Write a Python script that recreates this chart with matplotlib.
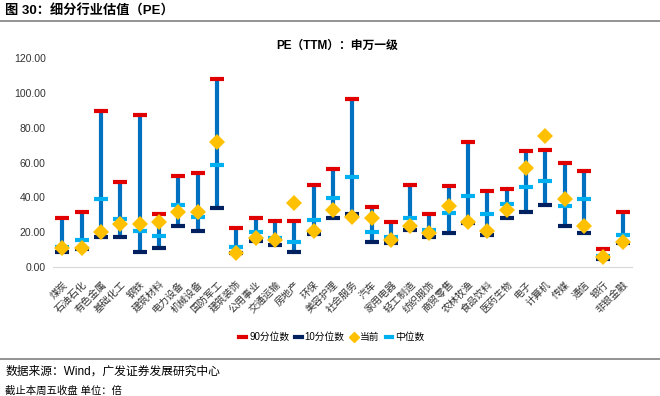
import numpy as np
import matplotlib.pyplot as plt
from matplotlib.lines import Line2D
from matplotlib.ticker import FormatStrFormatter

plt.rcParams['font.family'] = ['Liberation Sans', 'Noto Sans CJK SC', 'DejaVu Sans']

# --- DATA ---
industries = ["煤炭", "石油石化", "有色金属", "基础化工", "钢铁", "建筑材料", "电力设备", "机械设备",
              "国防军工", "建筑装饰", "公用事业", "交通运输", "房地产", "环保", "美容护理", "社会服务",
              "汽车", "家用电器", "轻工制造", "纺织服饰", "商贸零售", "农林牧渔", "食品饮料", "医药生物",
              "电子", "计算机", "传媒", "通信", "银行", "非银金融"]
p90 = [28.3, 31.6, 89.8, 49.0, 87.4, 30.6, 52.1, 54.2, 108.2, 22.4, 28.3, 26.4, 26.6, 47.1, 56.1,
       96.4, 34.5, 25.7, 47.1, 30.5, 46.4, 71.8, 43.5, 45.0, 66.7, 67.2, 59.6, 55.4, 10.2, 31.4]
p10 = [8.4, 10.2, 17.2, 17.4, 8.4, 11.1, 23.6, 20.5, 34.1, 8.0, 15.1, 12.8, 8.6, 18.8, 28.0,
       30.6, 14.2, 14.0, 21.3, 17.4, 19.7, 25.1, 18.6, 28.2, 31.6, 35.5, 23.8, 19.5, 4.4, 14.0]
current = [10.7, 10.9, 19.9, 24.5, 24.7, 26.0, 31.8, 31.4, 71.7, 8.2, 16.5, 15.5, 36.8, 20.7, 32.8,
           28.7, 28.2, 15.5, 23.6, 19.4, 35.1, 25.9, 20.5, 32.6, 56.7, 75.3, 39.1, 23.4, 5.6, 14.5]
median = [11.7, 15.5, 39.1, 27.4, 20.5, 18.0, 35.6, 28.7, 58.8, 11.5, 19.9, 16.9, 14.4, 27.2, 39.8,
          51.5, 19.9, 17.4, 28.0, 21.0, 31.2, 41.0, 30.6, 36.4, 45.8, 49.3, 35.1, 38.9, 6.5, 18.6]

C_BAR = "#0070C0"
C_P90 = "#E00000"
C_P10 = "#002060"
C_CUR = "#FFC000"
C_MED = "#00B0F0"

fig = plt.figure(figsize=(6.6, 3.96), dpi=100)
ax = fig.add_axes([0.080, 0.326, 0.878, 0.527])

x = np.arange(len(industries))
# 10-90 range bar, then the three dashes and the diamond for the current value
ax.vlines(x, p10, p90, color=C_BAR, linewidth=3, zorder=2)
ax.plot(x, p90, linestyle='none', marker='_', markersize=10, markeredgewidth=3, color=C_P90, zorder=3)
ax.plot(x, p10, linestyle='none', marker='_', markersize=10, markeredgewidth=3, color=C_P10, zorder=3)
ax.plot(x, median, linestyle='none', marker='_', markersize=10, markeredgewidth=3, color=C_MED, zorder=4)
ax.plot(x, current, linestyle='none', marker='D', markersize=8, color=C_CUR, markeredgewidth=0, zorder=5)

ax.set_xlim(-0.5, len(industries) - 0.5)
ax.set_ylim(0, 120)
ax.set_yticks(np.arange(0, 121, 20))
ax.yaxis.set_major_formatter(FormatStrFormatter('%.2f'))
ax.tick_params(axis='y', length=0, labelsize=7.5, pad=5, labelcolor='#333333')
ax.set_xticks(x)
ax.set_xticklabels(industries, rotation=45, ha='right', rotation_mode='anchor', fontsize=7.2,
                   color='#333333')
ax.tick_params(axis='x', length=0, pad=9)
for s in ['top', 'right', 'left']:
    ax.spines[s].set_visible(False)
ax.spines['bottom'].set_color('#D9D9D9')

ax.set_title("PE（TTM）：申万一级", fontsize=8.5, fontweight='bold', pad=7, x=0.49)

# legend
handles = [
    Line2D([], [], color=C_P90, linewidth=3),
    Line2D([], [], color=C_P10, linewidth=3),
    Line2D([], [], color=C_CUR, marker='D', markersize=5, linestyle='none'),
    Line2D([], [], color=C_MED, linewidth=3),
]
labels = ["90分位数", "10分位数", "当前", "中位数"]
fig.legend(handles, labels, loc='center', bbox_to_anchor=(0.503, 0.149), ncol=4, frameon=False,
           fontsize=7, handlelength=0.7, handletextpad=0.3, columnspacing=0.6)

# header / footer
fig.text(0.008, 0.972, "图 30：细分行业估值（PE）", fontsize=9.5, fontweight='bold', va='center')
fig.add_artist(Line2D([0, 1], [0.947, 0.947], color='#808080', linewidth=1.2))
fig.add_artist(Line2D([0, 1], [0.094, 0.094], color='#808080', linewidth=1.2))
fig.text(0.008, 0.061, "数据来源：Wind，广发证券发展研究中心", fontsize=8.5, va='center')
fig.text(0.008, 0.013, "截止本周五收盘 单位：倍", fontsize=7.5, va='center')

fig.savefig("out.png", dpi=100)
